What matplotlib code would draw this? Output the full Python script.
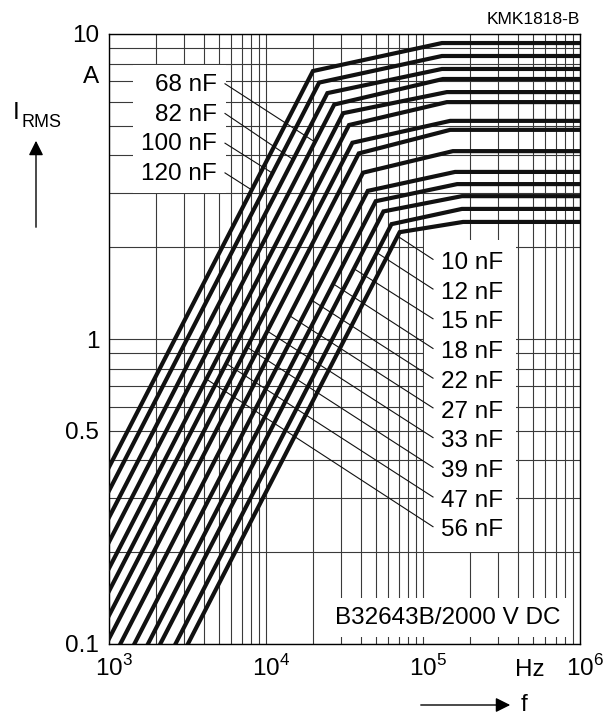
import numpy as np
import matplotlib.pyplot as plt
from matplotlib.patches import Rectangle
from matplotlib.transforms import ScaledTranslation

plt.rcParams['font.family'] = ['Liberation Sans', 'DejaVu Sans']
plt.rcParams['mathtext.fontset'] = 'custom'
plt.rcParams['mathtext.rm'] = 'Liberation Sans'

# capacitance values (nF), curve vertices
caps = [10, 12, 15, 18, 22, 27, 33, 39, 47, 56, 68, 82, 100, 120]
start_f = [3180, 2650, 2120, 1770, 1450, 1180, 1000, 1000, 1000, 1000, 1000, 1000, 1000, 1000]
start_i = [0.1, 0.1, 0.1, 0.1, 0.1, 0.1, 0.104, 0.124, 0.149, 0.177, 0.216, 0.26, 0.318, 0.38]
knee_f = [71e3, 63e3, 56e3, 50e3, 44.5e3, 41.5e3, 39e3, 35.5e3, 33.8e3, 31e3, 27.2e3, 24.6e3, 21.8e3, 19.9e3]
knee_i = [2.24, 2.38, 2.62, 2.83, 3.06, 3.51, 4.06, 4.40, 5.03, 5.50, 5.87, 6.40, 6.93, 7.56]
flat_f = [180e3, 177e3, 177e3, 165e3, 160e3, 155e3, 149e3, 149e3, 142e3, 142e3, 134e3, 132e3, 132e3, 132e3]
flat_i = [2.42, 2.67, 2.94, 3.22, 3.53, 4.13, 4.85, 5.19, 5.98, 6.45, 7.12, 7.68, 8.47, 9.34]
end_f = 1e6

# frequency where each label's leader touches its curve
leader_f = [68.9e3, 50.8e3, 36.3e3, 26.8e3, 19.5e3, 14.1e3, 10.2e3, 7.58e3, 5.58e3, 4.17e3,
            20.5e3, 14.9e3, 11.0e3, 8.11e3]

fig = plt.figure(figsize=(6.08, 7.15), dpi=100)
ax = fig.add_axes([109/608, 71/715, 471/608, 610/715])
ax.set_xscale('log')
ax.set_yscale('log')
ax.set_xlim(1e3, 1e6)
ax.set_ylim(0.1, 10)

ax.set_axisbelow(True)
ax.set_xticks([1e3, 1e4, 1e5, 1e6])
ax.set_xticklabels(['$10^3$', '$10^4$', '$10^5$', '$10^6$'])
ax.set_xticks([m * 10**e for e in (3, 4, 5) for m in range(2, 10)], minor=True)
ax.set_yticks([0.1, 0.5, 1, 10])
ax.set_yticklabels(['0.1', '0.5', '1', '10'])
ax.set_yticks([m * 10.0**e for e in (-1, 0) for m in range(2, 10) if not (e == -1 and m == 5)], minor=True)
ax.tick_params(which='both', length=0)
ax.tick_params(axis='y', labelsize=17.5, pad=7)
ax.tick_params(axis='x', labelsize=17.5, pad=8)
ax.yaxis.set_minor_formatter(plt.NullFormatter())
ax.xaxis.set_minor_formatter(plt.NullFormatter())
ax.grid(which='both', color='#3a3a3a', lw=0.8)
for s in ax.spines.values():
    s.set_linewidth(1.0)
for lab in ax.get_xticklabels():
    lab.set_transform(lab.get_transform() + ScaledTranslation(5/100, 0, fig.dpi_scale_trans))

# white label boxes that hide the grid
for (x0, x1, y0, y1) in [(0.051, 0.2484, 0.740, 0.950),
                         (0.6688, 0.8650, 0.1508, 0.6623),
                         (0.4692, 0.9766, 0.0115, 0.0754)]:
    ax.add_patch(Rectangle((x0, y0), x1 - x0, y1 - y0, transform=ax.transAxes,
                           facecolor='white', edgecolor='none', zorder=1))

curves = []
for i in range(len(caps)):
    fs = [start_f[i], knee_f[i], flat_f[i], end_f]
    ys = [start_i[i], knee_i[i], flat_i[i], flat_i[i]]
    ax.plot(fs, ys, color='#111111', lw=3.0, solid_joinstyle='miter', zorder=3)
    curves.append((fs, ys))

def axes_to_data(xf, yf):
    disp = ax.transAxes.transform((xf, yf))
    return ax.transData.inverted().transform(disp)

def on_curve(i, f):
    fs, ys = curves[i]
    return 10 ** np.interp(np.log10(f), np.log10(fs), np.log10(ys))

# right labels 10..56 nF
for k in range(10):
    yf = 0.6246 - 0.0487 * k
    ax.text(0.7049, yf, f'{caps[k]} nF', transform=ax.transAxes, fontsize=17.5,
            ha='left', va='center', zorder=5)
    xs, ys = axes_to_data(0.6879, yf + 0.006)
    fe = leader_f[k]
    ax.plot([xs, fe], [ys, on_curve(k, fe)], color='#111111', lw=0.8, zorder=4)

# left labels 68..120 nF
for j, k in enumerate(range(10, 14)):
    yf = 0.9164 - 0.0487 * j
    ax.text(0.229, yf, f'{caps[k]} nF', transform=ax.transAxes, fontsize=17.5,
            ha='right', va='center', zorder=5)
    xs, ys = axes_to_data(0.2463, yf + 0.002)
    fe = leader_f[k]
    ax.plot([xs, fe], [ys, on_curve(k, fe)], color='#111111', lw=0.8, zorder=4)

ax.text(0.720, 0.043, 'B32643B/2000 V DC', transform=ax.transAxes, fontsize=17.5,
        ha='center', va='center', zorder=5)
ax.text(-0.0212, 0.9295, 'A', transform=ax.transAxes, fontsize=17.5, ha='right', va='center')
ax.text(0.894, -0.043, 'Hz', transform=ax.transAxes, fontsize=17.5, ha='center', va='center')

fig.text(580/608, 1 - 20/715, 'KMK1818-B', fontsize=12.5, ha='right', va='center')
fig.text(13/608, 1 - 119/715, 'I', fontsize=17.5, ha='left', va='baseline')
fig.text(21/608, 1 - 127/715, 'RMS', fontsize=13, ha='left', va='baseline')
fig.text(521/608, 1 - 705/715, 'f', fontsize=17.5, ha='left', va='center')

ax.annotate('', xy=(36, 715 - 138), xytext=(36, 715 - 230), xycoords='figure pixels',
            textcoords='figure pixels',
            arrowprops=dict(arrowstyle='-|>', color='black', lw=1.0, mutation_scale=22))
ax.annotate('', xy=(513, 715 - 705), xytext=(418, 715 - 705), xycoords='figure pixels',
            textcoords='figure pixels',
            arrowprops=dict(arrowstyle='-|>', color='black', lw=1.0, mutation_scale=22))

fig.savefig('out.png', dpi=100)
